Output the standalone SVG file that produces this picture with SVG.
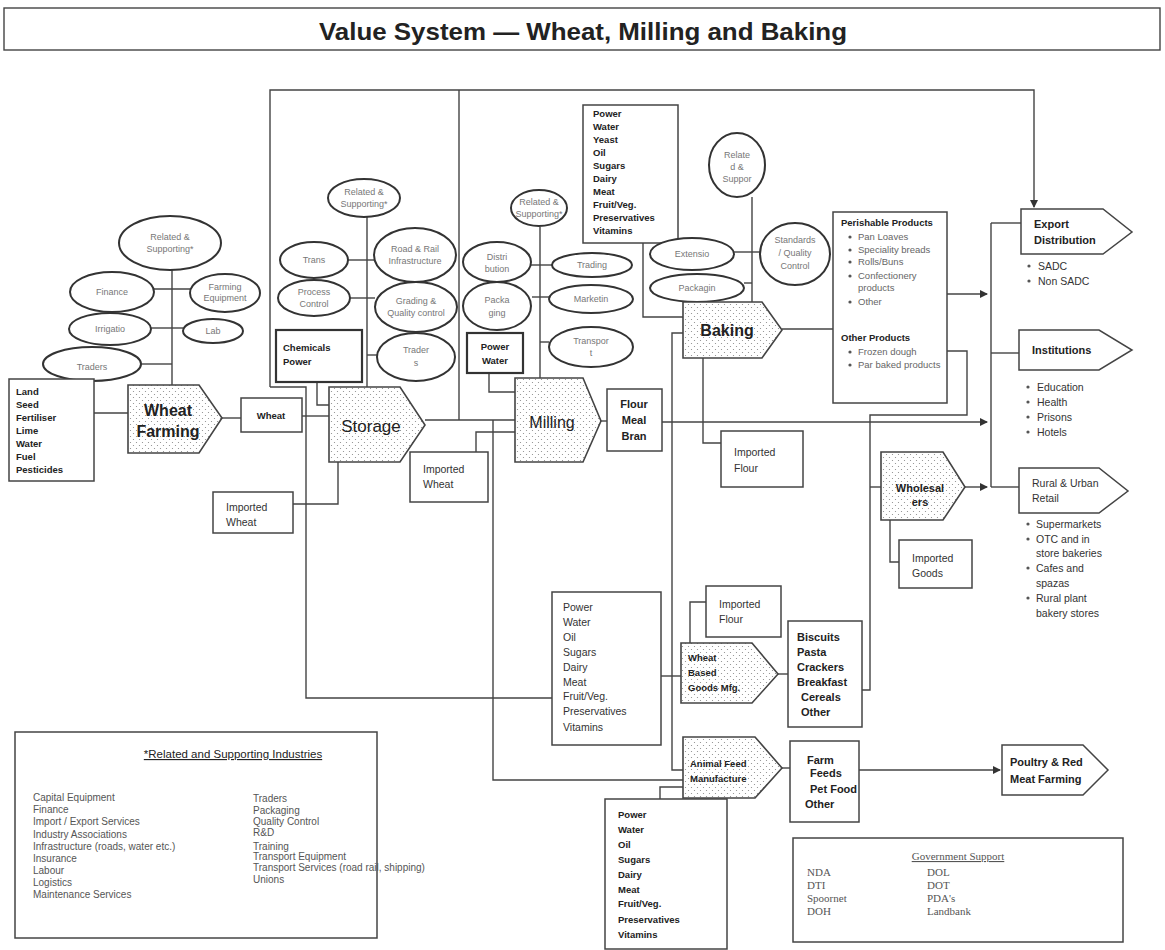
<svg xmlns="http://www.w3.org/2000/svg" width="1165" height="950" viewBox="0 0 1165 950">
<style>
text{font-family:"Liberation Sans",Arial,sans-serif;fill:#222}
.ln{fill:none;stroke:#444;stroke-width:1.4}
.bx{fill:#fff;stroke:#444;stroke-width:1.5}
.bx2{fill:#fff;stroke:#333;stroke-width:2.2}
.pent{fill:url(#dots);stroke:#444;stroke-width:1.6}
.el{fill:#fff;stroke:#333;stroke-width:2}
.et{font-size:9px;fill:#777;text-anchor:middle}
.b9{font-size:9.5px;font-weight:bold}
.r10{font-size:10.5px;fill:#333}
.big{font-size:16px;font-weight:bold;text-anchor:middle}
.mid{font-size:11px;font-weight:bold}
.ser{font-family:"Liberation Serif","Times New Roman",serif;font-size:11px;fill:#555}
.bul{fill:#555}
.pt{font-size:9.5px;fill:#666}
.ri{font-size:10px;fill:#555}
</style>
<defs>
<pattern id="dots" width="6" height="6" patternUnits="userSpaceOnUse">
<rect width="6" height="6" fill="#fff"/>
<circle cx="1.5" cy="1.5" r="0.6" fill="#888"/>
<circle cx="4.5" cy="4.5" r="0.6" fill="#888"/>
</pattern>
<marker id="ar" markerWidth="8" markerHeight="8" refX="7" refY="4" orient="auto" markerUnits="userSpaceOnUse">
<path d="M0,0 L8,4 L0,8 z" fill="#333"/>
</marker>
</defs>

<g id="title">
<rect x="4" y="8" width="1156" height="42" fill="#fff" stroke="#444" stroke-width="1.4"/>
<text x="583" y="40" font-size="24" font-weight="bold" text-anchor="middle" textLength="528" lengthAdjust="spacingAndGlyphs">Value System — Wheat, Milling and Baking</text>
</g>

<g id="connectors">
<path class="ln" d="M270,387 V90 H1034 V207" marker-end="url(#ar)"/>
<path class="ln" d="M459,90 V420"/>
<path class="ln" d="M270,387 H306 V698 H552"/>
<path class="ln" d="M172,270 V385"/>
<path class="ln" d="M154,289 H190"/>
<path class="ln" d="M151,328 H183"/>
<path class="ln" d="M141,364 H172"/>
<path class="ln" d="M94,413 H128"/>
<path class="ln" d="M222,418 H241"/>
<path class="ln" d="M302,416 H329"/>
<path class="ln" d="M367,217 V387"/>
<path class="ln" d="M348,260 H375"/>
<path class="ln" d="M350,298 H375"/>
<path class="ln" d="M367,355 H378"/>
<path class="ln" d="M317,382 V405 H329"/>
<path class="ln" d="M293,504 H338 V462"/>
<path class="ln" d="M425,420 H515"/>
<path class="ln" d="M476,452 V432 H515"/>
<path class="ln" d="M493,420 V780 H683"/>
<path class="ln" d="M540,227 V378"/>
<path class="ln" d="M530,265 H552"/>
<path class="ln" d="M532,297 H549"/>
<path class="ln" d="M540,342 H549"/>
<path class="ln" d="M489,373 V392 H515"/>
<path class="ln" d="M601,421 H607"/>
<path class="ln" d="M662,422 H987" marker-end="url(#ar)"/>
<path class="ln" d="M643,243 V317 H683"/>
<path class="ln" d="M752,197 V302"/>
<path class="ln" d="M734,252 H760"/>
<path class="ln" d="M744,283 H752"/>
<path class="ln" d="M782,329 H833"/>
<path class="ln" d="M683,333 H672 V770 H683"/>
<path class="ln" d="M661,676 H681"/>
<path class="ln" d="M703,358 V443 H721"/>
<path class="ln" d="M947,294 H987" marker-end="url(#ar)"/>
<path class="ln" d="M947,351 H967 V415 H870 V690 H862"/>
<path class="ln" d="M991,223 V487"/>
<path class="ln" d="M991,223 H1021"/>
<path class="ln" d="M991,353 H1019"/>
<path class="ln" d="M870,487 H881"/>
<path class="ln" d="M965,487 H987" marker-end="url(#ar)"/>
<path class="ln" d="M991,487 H1019"/>
<path class="ln" d="M890,520 V562 H899"/>
<path class="ln" d="M690,643 V602 H706"/>
<path class="ln" d="M778,674 H788"/>
<path class="ln" d="M782,768 H790"/>
<path class="ln" d="M859,770 H1000" marker-end="url(#ar)"/>
<path class="ln" d="M660,799 V787 H683"/>
</g>

<g id="farm-related">
<ellipse class="el" cx="170" cy="243" rx="51" ry="27"/>
<text class="et" x="170" y="240">Related &amp;</text>
<text class="et" x="170" y="252">Supporting*</text>
</g>
<g id="finance"><ellipse class="el" cx="112" cy="292" rx="42" ry="20"/><text class="et" x="112" y="295">Finance</text></g>
<g id="farming-equipment"><ellipse class="el" cx="225" cy="293" rx="35" ry="19"/><text class="et" x="225" y="290">Farming</text><text class="et" x="225" y="301">Equipment</text></g>
<g id="irrigation"><ellipse class="el" cx="110" cy="329" rx="41" ry="16"/><text class="et" x="110" y="332">Irrigatio</text></g>
<g id="lab"><ellipse class="el" cx="213" cy="331" rx="30" ry="12"/><text class="et" x="213" y="334">Lab</text></g>
<g id="farm-traders"><ellipse class="el" cx="92" cy="364" rx="49" ry="17"/><text class="et" x="92" y="370">Traders</text></g>
<g id="farm-inputs">
<rect class="bx" x="9" y="379" width="85" height="102"/>
<text class="b9" x="16" y="395">Land</text>
<text class="b9" x="16" y="408">Seed</text>
<text class="b9" x="16" y="421">Fertiliser</text>
<text class="b9" x="16" y="434">Lime</text>
<text class="b9" x="16" y="447">Water</text>
<text class="b9" x="16" y="460">Fuel</text>
<text class="b9" x="16" y="473">Pesticides</text>
</g>
<g id="wheat-farming">
<polygon class="pent" points="128,385 199,385 222,418 199,453 128,453"/>
<text class="big" x="168" y="416">Wheat</text>
<text class="big" x="168" y="437">Farming</text>
</g>
<g id="wheat"><rect class="bx" x="241" y="398" width="61" height="34"/><text class="b9" x="271" y="419" text-anchor="middle">Wheat</text></g>

<g id="storage-related"><ellipse class="el" cx="364" cy="198" rx="36" ry="19"/><text class="et" x="364" y="195">Related &amp;</text><text class="et" x="364" y="207">Supporting*</text></g>
<g id="trans"><ellipse class="el" cx="314" cy="260" rx="34" ry="18"/><text class="et" x="314" y="263">Trans</text></g>
<g id="road-rail"><ellipse class="el" cx="415" cy="255" rx="41" ry="27"/><text class="et" x="415" y="252">Road &amp; Rail</text><text class="et" x="415" y="264">Infrastructure</text></g>
<g id="process-control"><ellipse class="el" cx="314" cy="298" rx="36" ry="18"/><text class="et" x="314" y="295">Process</text><text class="et" x="314" y="307">Control</text></g>
<g id="grading"><ellipse class="el" cx="416" cy="307" rx="41" ry="25"/><text class="et" x="416" y="304">Grading &amp;</text><text class="et" x="416" y="316">Quality control</text></g>
<g id="storage-traders"><ellipse class="el" cx="416" cy="357" rx="39" ry="24"/><text class="et" x="416" y="353">Trader</text><text class="et" x="416" y="366">s</text></g>
<g id="chemicals-power"><rect class="bx2" x="276" y="330" width="86" height="52"/><text class="b9" x="283" y="351">Chemicals</text><text class="b9" x="283" y="365">Power</text></g>
<g id="storage">
<polygon class="pent" points="329,387 400,387 425,425 400,462 329,462"/>
<text x="371" y="432" font-size="17" text-anchor="middle">Storage</text>
</g>
<g id="imported-wheat-1"><rect class="bx" x="213" y="492" width="80" height="41"/><text class="r10" x="226" y="511">Imported</text><text class="r10" x="226" y="526">Wheat</text></g>
<g id="imported-wheat-2"><rect class="bx" x="410" y="452" width="78" height="50"/><text class="r10" x="423" y="473">Imported</text><text class="r10" x="423" y="488">Wheat</text></g>

<g id="milling-related"><ellipse class="el" cx="539" cy="208" rx="28" ry="18"/><text class="et" x="539" y="205">Related &amp;</text><text class="et" x="539" y="217">Supporting*</text></g>
<g id="distribution"><ellipse class="el" cx="497" cy="262" rx="34" ry="20"/><text class="et" x="497" y="260">Distri</text><text class="et" x="497" y="272">bution</text></g>
<g id="trading"><ellipse class="el" cx="592" cy="265" rx="40" ry="12"/><text class="et" x="592" y="268">Trading</text></g>
<g id="packaging-m"><ellipse class="el" cx="497" cy="306" rx="34" ry="24"/><text class="et" x="497" y="303">Packa</text><text class="et" x="497" y="316">ging</text></g>
<g id="marketing"><ellipse class="el" cx="591" cy="299" rx="42" ry="14"/><text class="et" x="591" y="302">Marketin</text></g>
<g id="transport"><ellipse class="el" cx="591" cy="347" rx="42" ry="20"/><text class="et" x="591" y="344">Transpor</text><text class="et" x="591" y="356">t</text></g>
<g id="power-water-m"><rect class="bx2" x="467" y="333" width="56" height="40"/><text class="b9" x="495" y="350" text-anchor="middle">Power</text><text class="b9" x="495" y="364" text-anchor="middle">Water</text></g>
<g id="milling">
<polygon class="pent" points="515,378 583,378 601,421 583,462 515,462"/>
<text x="552" y="428" font-size="16" text-anchor="middle">Milling</text>
</g>
<g id="flour-meal-bran"><rect class="bx" x="607" y="389" width="55" height="62"/><text class="mid" x="634" y="408" text-anchor="middle">Flour</text><text class="mid" x="634" y="424" text-anchor="middle">Meal</text><text class="mid" x="634" y="440" text-anchor="middle">Bran</text></g>

<g id="baking-inputs">
<rect class="bx" x="583" y="105" width="95" height="138"/>
<text class="b9" x="593" y="117">Power</text>
<text class="b9" x="593" y="130">Water</text>
<text class="b9" x="593" y="143">Yeast</text>
<text class="b9" x="593" y="156">Oil</text>
<text class="b9" x="593" y="169">Sugars</text>
<text class="b9" x="593" y="182">Dairy</text>
<text class="b9" x="593" y="195">Meat</text>
<text class="b9" x="593" y="208">Fruit/Veg.</text>
<text class="b9" x="593" y="221">Preservatives</text>
<text class="b9" x="593" y="234">Vitamins</text>
</g>
<g id="baking-related"><ellipse class="el" cx="737" cy="165" rx="28" ry="32"/><text class="et" x="737" y="158">Relate</text><text class="et" x="737" y="170">d &amp;</text><text class="et" x="737" y="182">Suppor</text></g>
<g id="extension"><ellipse class="el" cx="692" cy="254" rx="42" ry="16"/><text class="et" x="692" y="257">Extensio</text></g>
<g id="packaging-b"><ellipse class="el" cx="697" cy="288" rx="47" ry="14"/><text class="et" x="697" y="291">Packagin</text></g>
<g id="standards"><ellipse class="el" cx="795" cy="254" rx="35" ry="31"/><text class="et" x="795" y="243">Standards</text><text class="et" x="795" y="256">/ Quality</text><text class="et" x="795" y="269">Control</text></g>
<g id="baking">
<polygon class="pent" points="683,302 762,302 782,330 762,358 683,358"/>
<text class="big" x="727" y="336">Baking</text>
</g>
<g id="imported-flour-1"><rect class="bx" x="721" y="431" width="82" height="56"/><text class="r10" x="734" y="456">Imported</text><text class="r10" x="734" y="472">Flour</text></g>

<g id="products">
<rect class="bx" x="833" y="212" width="114" height="191"/>
<text class="b9" x="841" y="226">Perishable Products</text>
<circle class="bul" cx="850" cy="237" r="1.6"/><text class="pt" x="858" y="240">Pan Loaves</text>
<circle class="bul" cx="850" cy="250" r="1.6"/><text class="pt" x="858" y="253">Speciality breads</text>
<circle class="bul" cx="850" cy="262" r="1.6"/><text class="pt" x="858" y="265">Rolls/Buns</text>
<circle class="bul" cx="850" cy="276" r="1.6"/><text class="pt" x="858" y="279">Confectionery</text>
<text class="pt" x="858" y="291">products</text>
<circle class="bul" cx="850" cy="302" r="1.6"/><text class="pt" x="858" y="305">Other</text>
<text class="b9" x="841" y="341">Other Products</text>
<circle class="bul" cx="850" cy="352" r="1.6"/><text class="pt" x="858" y="355">Frozen dough</text>
<circle class="bul" cx="850" cy="365" r="1.6"/><text class="pt" x="858" y="368">Par baked products</text>
</g>

<g id="export">
<polygon class="bx" points="1021,209 1103,209 1132,232 1103,254 1021,254"/>
<text class="mid" x="1034" y="228">Export</text>
<text class="mid" x="1034" y="244">Distribution</text>
<circle class="bul" cx="1029" cy="266" r="1.6"/><text class="r10" x="1038" y="270">SADC</text>
<circle class="bul" cx="1029" cy="281" r="1.6"/><text class="r10" x="1038" y="285">Non SADC</text>
</g>
<g id="institutions">
<polygon class="bx" points="1019,330 1099,330 1132,350 1099,370 1019,370"/>
<text class="mid" x="1032" y="354">Institutions</text>
<circle class="bul" cx="1028" cy="387" r="1.6"/><text class="r10" x="1037" y="391">Education</text>
<circle class="bul" cx="1028" cy="402" r="1.6"/><text class="r10" x="1037" y="406">Health</text>
<circle class="bul" cx="1028" cy="417" r="1.6"/><text class="r10" x="1037" y="421">Prisons</text>
<circle class="bul" cx="1028" cy="432" r="1.6"/><text class="r10" x="1037" y="436">Hotels</text>
</g>
<g id="retail">
<polygon class="bx" points="1019,468 1099,468 1128,491 1099,513 1019,513"/>
<text class="r10" x="1032" y="487" font-size="11">Rural &amp; Urban</text>
<text class="r10" x="1032" y="502" font-size="11">Retail</text>
<circle class="bul" cx="1028" cy="524" r="1.6"/><text class="r10" x="1036" y="528">Supermarkets</text>
<circle class="bul" cx="1028" cy="539" r="1.6"/><text class="r10" x="1036" y="543">OTC and  in</text>
<text class="r10" x="1036" y="557">store bakeries</text>
<circle class="bul" cx="1028" cy="568" r="1.6"/><text class="r10" x="1036" y="572">Cafes and</text>
<text class="r10" x="1036" y="587">spazas</text>
<circle class="bul" cx="1028" cy="598" r="1.6"/><text class="r10" x="1036" y="602">Rural plant</text>
<text class="r10" x="1036" y="617">bakery stores</text>
</g>
<g id="wholesalers">
<polygon class="pent" points="881,452 943,452 965,487 943,520 881,520"/>
<text class="mid" x="920" y="492" text-anchor="middle">Wholesal</text>
<text class="mid" x="920" y="506" text-anchor="middle">ers</text>
</g>
<g id="imported-goods"><rect class="bx" x="899" y="540" width="73" height="48"/><text class="r10" x="912" y="562">Imported</text><text class="r10" x="912" y="577">Goods</text></g>

<g id="wbg-inputs">
<rect class="bx" x="552" y="592" width="109" height="153"/>
<text class="r10" x="563" y="611">Power</text>
<text class="r10" x="563" y="626">Water</text>
<text class="r10" x="563" y="641">Oil</text>
<text class="r10" x="563" y="656">Sugars</text>
<text class="r10" x="563" y="671">Dairy</text>
<text class="r10" x="563" y="686">Meat</text>
<text class="r10" x="563" y="700">Fruit/Veg.</text>
<text class="r10" x="563" y="715">Preservatives</text>
<text class="r10" x="563" y="731">Vitamins</text>
</g>
<g id="imported-flour-2"><rect class="bx" x="706" y="586" width="75" height="51"/><text class="r10" x="719" y="608">Imported</text><text class="r10" x="719" y="623">Flour</text></g>
<g id="wheat-based-goods">
<polygon class="pent" points="681,643 752,643 778,674 752,703 681,703"/>
<text class="b9" x="688" y="661" font-size="10">Wheat</text>
<text class="b9" x="688" y="676" font-size="10">Based</text>
<text class="b9" x="688" y="691" font-size="10">Goods Mfg.</text>
</g>
<g id="biscuits">
<rect class="bx" x="788" y="621" width="74" height="106"/>
<text class="mid" x="797" y="641">Biscuits</text>
<text class="mid" x="797" y="656">Pasta</text>
<text class="mid" x="797" y="671">Crackers</text>
<text class="mid" x="797" y="686">Breakfast</text>
<text class="mid" x="801" y="701">Cereals</text>
<text class="mid" x="801" y="716">Other</text>
</g>

<g id="animal-feed">
<polygon class="pent" points="683,737 755,737 782,768 755,798 683,798"/>
<text class="b9" x="690" y="767" font-size="10">Animal Feed</text>
<text class="b9" x="690" y="782" font-size="10">Manufacture</text>
</g>
<g id="farm-feeds">
<rect class="bx" x="790" y="741" width="69" height="81"/>
<text class="mid" x="807" y="764" font-size="10.5">Farm</text>
<text class="mid" x="810" y="777" font-size="10.5">Feeds</text>
<text class="mid" x="810" y="793" font-size="10.5">Pet Food</text>
<text class="mid" x="805" y="808" font-size="10.5">Other</text>
</g>
<g id="poultry">
<polygon class="bx" points="1002,745 1083,745 1108,770 1083,795 1002,795"/>
<text class="mid" x="1010" y="766">Poultry &amp; Red</text>
<text class="mid" x="1010" y="783">Meat Farming</text>
</g>
<g id="afm-inputs">
<rect class="bx" x="605" y="799" width="122" height="150"/>
<text class="b9" x="618" y="818" font-size="10">Power</text>
<text class="b9" x="618" y="833" font-size="10">Water</text>
<text class="b9" x="618" y="848" font-size="10">Oil</text>
<text class="b9" x="618" y="863" font-size="10">Sugars</text>
<text class="b9" x="618" y="878" font-size="10">Dairy</text>
<text class="b9" x="618" y="893" font-size="10">Meat</text>
<text class="b9" x="618" y="907" font-size="10">Fruit/Veg.</text>
<text class="b9" x="618" y="923" font-size="10">Preservatives</text>
<text class="b9" x="618" y="938" font-size="10">Vitamins</text>
</g>

<g id="related-industries">
<rect class="bx" x="15" y="732" width="362" height="206"/>
<text x="233" y="758" font-size="11.5" fill="#444" text-anchor="middle" text-decoration="underline">*Related and Supporting Industries</text>
<text class="ri" x="33" y="801">Capital Equipment</text>
<text class="ri" x="33" y="813">Finance</text>
<text class="ri" x="33" y="825" font-size="11">Import / Export Services</text>
<text class="ri" x="33" y="838">Industry Associations</text>
<text class="ri" x="33" y="850">Infrastructure (roads, water etc.)</text>
<text class="ri" x="33" y="862">Insurance</text>
<text class="ri" x="33" y="874">Labour</text>
<text class="ri" x="33" y="886">Logistics</text>
<text class="ri" x="33" y="898">Maintenance Services</text>
<text class="ri" x="253" y="802">Traders</text>
<text class="ri" x="253" y="814">Packaging</text>
<text class="ri" x="253" y="825">Quality Control</text>
<text class="ri" x="253" y="836">R&amp;D</text>
<text class="ri" x="253" y="850" font-size="11.5">Training</text>
<text class="ri" x="253" y="860">Transport Equipment</text>
<text class="ri" x="253" y="871" font-size="9.5">Transport Services (road rail, shipping)</text>
<text class="ri" x="253" y="883">Unions</text>
</g>

<g id="government-support">
<rect class="bx" x="793" y="838" width="330" height="104"/>
<text class="ser" x="958" y="860" text-anchor="middle" text-decoration="underline">Government Support</text>
<text class="ser" x="807" y="876">NDA</text>
<text class="ser" x="807" y="889">DTI</text>
<text class="ser" x="807" y="902">Spoornet</text>
<text class="ser" x="807" y="915">DOH</text>
<text class="ser" x="927" y="876">DOL</text>
<text class="ser" x="927" y="889">DOT</text>
<text class="ser" x="927" y="902">PDA's</text>
<text class="ser" x="927" y="915">Landbank</text>
</g>
</svg>
